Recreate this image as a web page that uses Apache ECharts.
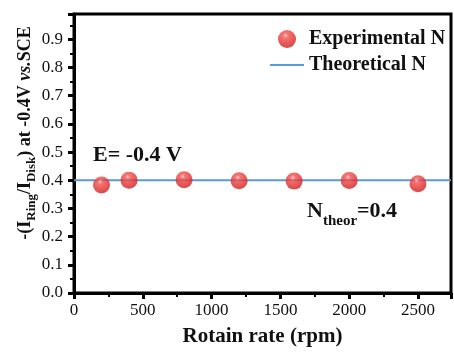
<!DOCTYPE html>
<html>
<head>
<meta charset="utf-8">
<script src="https://cdn.jsdelivr.net/npm/echarts@6/dist/echarts.min.js"></script>
<style>
  html, body { margin: 0; padding: 0; background: #fff; }
  #chart { width: 454px; height: 352px; }
</style>
</head>
<body>
<div id="chart"></div>
<script>
  // data
  const rotationRate = [200, 400, 800, 1200, 1600, 2000, 2500]
  const experimentalN = [0.383, 0.400, 0.402, 0.398, 0.397, 0.399, 0.388]
  const theoreticalN = 0.4
  const xRange = [0, 2740]
  const yRange = [0, 0.99]

  const serif = '"Times New Roman", "Liberation Serif", serif'

  const expData = rotationRate.map((r, i) => [r, experimentalN[i]])
  const theoData = xRange.map(x => [x, theoreticalN])

  const sphere = {
    type: 'radial', x: 0.42, y: 0.3, r: 0.75,
    colorStops: [
      { offset: 0, color: '#ffc4c4' },
      { offset: 0.18, color: '#f25553' },
      { offset: 0.6, color: '#e3302e' },
      { offset: 1, color: '#c11d1b' }
    ]
  }

  const chart = echarts.init(document.getElementById('chart'))
  chart.setOption({
    animation: false,
    backgroundColor: '#fff',
    grid: {
      left: 74, right: 3, top: 14, bottom: 56,
      show: true, borderColor: '#000', borderWidth: 3
    },
    legend: {
      orient: 'vertical',
      left: 265,
      top: 24,
      itemWidth: 34,
      itemHeight: 18,
      itemGap: 6,
      textStyle: { fontFamily: serif, fontWeight: 'bold', fontSize: 20, color: '#111' },
      data: [
        { name: 'Experimental N' },
        { name: 'Theoretical N', icon: 'path://M0,0L34,0L34,2L0,2Z' }
      ]
    },
    xAxis: {
      type: 'value',
      min: xRange[0],
      max: xRange[1],
      interval: 500,
      name: 'Rotain rate (rpm)',
      nameLocation: 'middle',
      nameGap: 33,
      nameTextStyle: { fontFamily: serif, fontWeight: 'bold', fontSize: 21, color: '#111' },
      axisLine: { lineStyle: { color: '#000', width: 3 } },
      axisTick: { inside: false, length: 6, lineStyle: { width: 3, color: '#000' } },
      minorTick: { show: true, splitNumber: 2, length: 4, lineStyle: { width: 2, color: '#000' } },
      axisLabel: {
        fontFamily: serif, fontSize: 17, color: '#111', margin: 9, showMaxLabel: false,
        formatter: v => String(v)
      },
      splitLine: { show: false }
    },
    yAxis: {
      type: 'value',
      min: yRange[0],
      max: yRange[1],
      interval: 0.1,
      axisLine: { show: true, lineStyle: { color: '#000', width: 3 } },
      axisTick: { show: true, inside: false, length: 6, lineStyle: { width: 3, color: '#000' } },
      minorTick: { show: true, splitNumber: 2, length: 4, lineStyle: { width: 2, color: '#000' } },
      axisLabel: {
        fontFamily: serif, fontSize: 17, color: '#111', margin: 11, showMaxLabel: false,
        formatter: v => v.toFixed(1)
      },
      splitLine: { show: false }
    },
    graphic: [
      {
        type: 'text',
        x: 25, y: 133,
        rotation: Math.PI / 2,
        style: {
          text: '{m|-(I}{s|Ring}{m|/I}{s|Disk}{m|) at -0.4V }{i|vs.}{m|SCE}',
          align: 'center',
          verticalAlign: 'middle',
          fill: '#111',
          rich: {
            m: { fontFamily: serif, fontWeight: 'bold', fontSize: 18, lineHeight: 26, fill: '#111' },
            i: { fontFamily: serif, fontWeight: 'bold', fontStyle: 'italic', fontSize: 18, lineHeight: 26, fill: '#111' },
            s: { fontFamily: serif, fontWeight: 'bold', fontSize: 13, verticalAlign: 'bottom', fill: '#111' }
          }
        }
      },
      {
        type: 'text',
        x: 93, y: 155,
        style: {
          text: 'E= -0.4 V',
          fontFamily: serif, fontWeight: 'bold', fontSize: 22,
          fill: '#111', align: 'left', verticalAlign: 'middle'
        }
      },
      {
        type: 'text',
        x: 307, y: 211,
        style: {
          text: '{m|N}{s|theor}{m|=0.4}',
          align: 'left',
          verticalAlign: 'middle',
          fill: '#111',
          rich: {
            m: { fontFamily: serif, fontWeight: 'bold', fontSize: 22, lineHeight: 36, fill: '#111' },
            s: { fontFamily: serif, fontWeight: 'bold', fontSize: 15, verticalAlign: 'bottom', fill: '#111' }
          }
        }
      }
    ],
    series: [
      {
        name: 'Theoretical N',
        type: 'line',
        data: theoData,
        symbol: 'none',
        lineStyle: { color: '#5b9bd5', width: 2 },
        itemStyle: { color: '#5b9bd5' },
        z: 2
      },
      {
        name: 'Experimental N',
        type: 'scatter',
        data: expData,
        symbol: 'circle',
        symbolSize: 17,
        itemStyle: { color: sphere },
        z: 3
      }
    ]
  })
</script>
</body>
</html>
